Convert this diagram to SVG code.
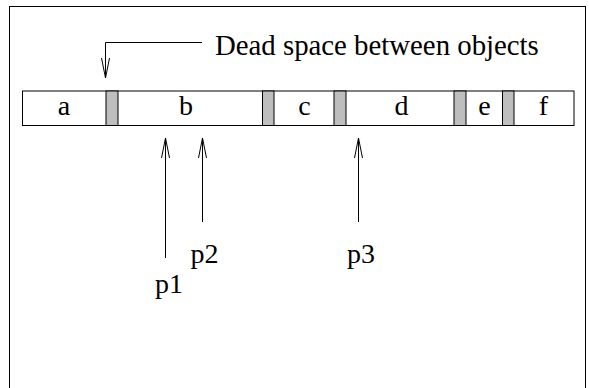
<svg xmlns="http://www.w3.org/2000/svg" width="589" height="388" viewBox="0 0 589 388">
  <style>
    .t { font-size: 28px; fill: #000; }
    .big { font-size: 28.8px; }
    .box { fill: #fff; stroke: #000; stroke-width: 1; }
    .gap { fill: #bebebe; stroke: #000; stroke-width: 1; }
    .conn { fill: none; stroke: #000; stroke-width: 1; }
  </style>
  <defs>
    <marker id="open" markerUnits="userSpaceOnUse" markerWidth="24" markerHeight="12" viewBox="-22 -6 24 12" refX="0" refY="0" orient="auto">
      <path d="M-20,-4 L0,0 L-20,4" fill="none" stroke="#000" stroke-width="1"/>
    </marker>
  </defs>
  <rect x="0" y="0" width="589" height="388" fill="#fff"/>
  <g id="frame">
    <rect x="9.5" y="6.5" width="576" height="420" fill="none" stroke="#000" stroke-width="1"/>
  </g>
  <g id="bar">
    <rect class="box" x="22.5" y="91" width="551.5" height="34.5"/>
    <rect class="gap" x="106" y="91" width="12" height="34.5"/>
    <rect class="gap" x="262.5" y="91" width="11.5" height="34.5"/>
    <rect class="gap" x="334" y="91" width="12" height="34.5"/>
    <rect class="gap" x="454" y="91" width="12" height="34.5"/>
    <rect class="gap" x="502.5" y="91" width="11.5" height="34.5"/>
  </g>
  <g font-family="'Liberation Serif', 'Times New Roman', Times, serif">
    <g id="node-a"><text class="t" x="64" y="115" text-anchor="middle">a</text></g>
    <g id="node-b"><text class="t" x="186" y="115" text-anchor="middle">b</text></g>
    <g id="node-c"><text class="t" x="304.5" y="115" text-anchor="middle">c</text></g>
    <g id="node-d"><text class="t" x="401.5" y="115" text-anchor="middle">d</text></g>
    <g id="node-e"><text class="t" x="484.5" y="115" text-anchor="middle">e</text></g>
    <g id="node-f"><text class="t" x="543.5" y="115" text-anchor="middle">f</text></g>
    <g id="label-dead"><text class="t big" x="215" y="55">Dead space between objects</text></g>
    <g id="label-p1"><text class="t" x="155" y="293">p1</text></g>
    <g id="label-p2"><text class="t" x="190.5" y="263">p2</text></g>
    <g id="label-p3"><text class="t" x="347" y="263">p3</text></g>
  </g>
  <g id="connectors">
    <polyline class="conn" points="202,42.5 105.5,42.5 105.5,78" marker-end="url(#open)"/>
    <line class="conn" x1="165.5" y1="258" x2="165.5" y2="138" marker-end="url(#open)"/>
    <line class="conn" x1="202.5" y1="222" x2="202.5" y2="138" marker-end="url(#open)"/>
    <line class="conn" x1="358.5" y1="222" x2="358.5" y2="138" marker-end="url(#open)"/>
  </g>
</svg>
